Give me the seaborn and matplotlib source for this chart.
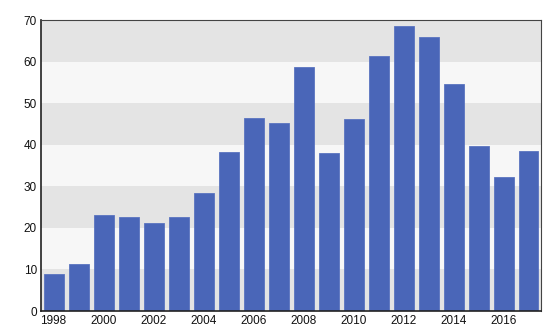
import matplotlib
matplotlib.use("Agg")
import matplotlib.pyplot as plt
import seaborn as sns
import pandas as pd

years = [str(y) for y in range(1998, 2018)]
values = [9.0, 11.4, 23.2, 22.6, 21.2, 22.6, 28.5, 38.2, 46.4, 45.2,
          58.7, 37.9, 46.1, 61.3, 68.6, 65.8, 54.6, 39.6, 32.3, 38.5]
y_ticks = [0, 10, 20, 30, 40, 50, 60, 70]

df = pd.DataFrame({"year": years, "value": values})

sns.set_style("white")
plt.rcParams['font.family'] = ['Liberation Sans', 'DejaVu Sans']

fig = plt.figure(figsize=(5.5, 3.33), dpi=100)
ax = fig.add_axes([41/550, 22/333, 500/550, 291/333])

for i in range(7):
    ax.axhspan(i*10, (i+1)*10, color='#e4e4e4' if i % 2 == 0 else '#f7f7f7', zorder=0, lw=0)

sns.barplot(data=df, x="year", y="value", color="#4a66b8", saturation=1,
            width=0.8, edgecolor="#5a74c0", linewidth=0.6, ax=ax, zorder=2)

ax.set_xlim(-0.5, len(years) - 0.5)
ax.set_ylim(0, 70)
ax.set_yticks(y_ticks)
ax.set_xticks(range(0, len(years), 2))
ax.set_xticklabels(years[::2])
ax.tick_params(axis='both', length=0, labelsize=8.5, colors='#111111', pad=3)
ax.set_xlabel("")
ax.set_ylabel("")
for s in ['left', 'bottom']:
    ax.spines[s].set_color('#222222')
    ax.spines[s].set_linewidth(1.2)
for s in ['top', 'right']:
    ax.spines[s].set_color('#444444')
    ax.spines[s].set_linewidth(0.8)

fig.savefig("out.png", dpi=100)
